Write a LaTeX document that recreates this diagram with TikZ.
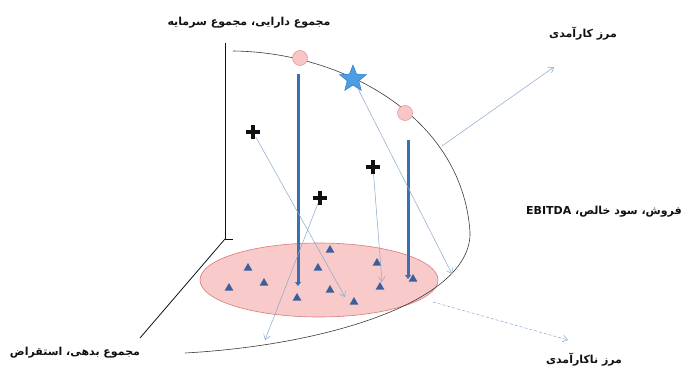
\documentclass[tikz,border=0pt]{standalone}
\usepackage{fontspec}
\newfontfamily\arabicfont[Script=Arabic]{DejaVu Sans}
\TeXXeTstate=1
\usetikzlibrary{arrows.meta,positioning,shapes.geometric,shapes.misc}
\definecolor{efInk}   {HTML}{111111}
\definecolor{efCurve} {HTML}{3A3A3A}
\definecolor{efBar}   {HTML}{3C6FB2}
\definecolor{efThin}  {HTML}{86A8CF}
\definecolor{efPlane} {HTML}{F9CACA}
\definecolor{efRim}   {HTML}{D97A7A}
\definecolor{efDot}   {HTML}{F8C6C6}
\definecolor{efDotRim}{HTML}{E59C9C}
\definecolor{efStar}  {HTML}{4C9DE2}
\definecolor{efStarRim}{HTML}{2E7BC4}
\definecolor{efTri}   {HTML}{3C5F9C}

\tikzset{
  lbl/.style={font=\arabicfont\bfseries\fontsize{11}{13}\selectfont,text=efInk,inner sep=1pt},
  axisline/.style={draw=efInk,line width=0.8pt},
  frontier/.style={draw=efCurve,line width=0.6pt},
  firmbar/.style={draw=efBar,line width=3pt,-{Triangle[length=4pt,width=6pt]}},
  move/.style={draw=efThin,line width=0.5pt,-{Straight Barb[length=5pt,width=7pt]}},
  optdot/.style={circle,draw=efDotRim,fill=efDot,line width=0.6pt,minimum size=15pt,inner sep=0pt},
  target/.style={star,star points=5,star point ratio=2.3,draw=efStarRim,fill=efStar,line width=0.5pt,minimum size=28pt,inner sep=0pt},
  firm/.style={regular polygon,regular polygon sides=3,fill=efTri,minimum size=10pt,inner sep=0pt},
  plusmark/.style={cross out,draw=efInk,line width=3.4pt,minimum size=7pt,inner sep=0pt,rotate=45},
}

\begin{document}
\begin{tikzpicture}[x=1pt,y=-1pt]
  \useasboundingbox (0,0) rectangle (684,369);

  % plane of liabilities
  \node[ellipse,draw=efRim,fill=efPlane,line width=0.6pt,
        minimum width=238pt,minimum height=74pt,inner sep=0pt] (plane) at (319,280) {};

  % axes
  \coordinate (origin) at (225,239);
  \coordinate (ytop)   at (225,43);
  \coordinate (foot)   at (233,239);
  \coordinate (zend)   at (140,338);
  \draw[axisline] (ytop) -- (origin) -- (foot);
  \draw[axisline] (origin) -- (zend);

  % efficient frontier
  \coordinate (fstart) at (233,51);
  \coordinate (fside)  at (470,232);
  \coordinate (fend)   at (185,353);
  \draw[frontier] (fstart) .. controls (340,52) and (462,115) .. (fside)
                           .. controls (472,300) and (330,345) .. (fend);

  % firms on the plane
  \node[firm] (t1)  at (330,250) {};
  \node[firm] (t2)  at (248,268) {};
  \node[firm] (t3)  at (318,268) {};
  \node[firm] (t4)  at (377,263) {};
  \node[firm] (t5)  at (229,288) {};
  \node[firm] (t6)  at (264,283) {};
  \node[firm] (t7)  at (297,298) {};
  \node[firm] (t8)  at (330,290) {};
  \node[firm] (t9)  at (354,302) {};
  \node[firm] (t10) at (380,287) {};
  \node[firm] (t11) at (413,279) {};

  % vertical projections
  \coordinate (bar1top) at (298,74);
  \coordinate (bar1end) at (298,286);
  \coordinate (bar2top) at (408,140);
  \coordinate (bar2end) at (408,279);
  \draw[firmbar] (bar1top) -- (bar1end);
  \draw[firmbar] (bar2top) -- (bar2end);

  % points on the frontier
  \node[optdot] (opt1) at (300,58) {};
  \node[optdot] (opt2) at (405,113) {};
  \node[target] (best) at (353,79) {};

  % firms above the plane
  \node[plusmark] (p1) at (253,132) {};
  \node[plusmark] (p2) at (320,198) {};
  \node[plusmark] (p3) at (373,167) {};

  % their moves
  \coordinate (m1) at (345,297);
  \coordinate (m2) at (265,340);
  \coordinate (m3) at (382,282);
  \coordinate (m4) at (452,274);
  \draw[move] (p1) -- (m1);
  \draw[move] (p2) -- (m2);
  \draw[move] (p3) -- (m3);
  \draw[move] (best) -- (m4);

  % pointers to the frontiers
  \coordinate (effstart) at (442,146);
  \coordinate (effend)   at (554,67);
  \coordinate (ineffstart) at (433,302);
  \coordinate (ineffend)   at (568,340);
  \draw[move] (effstart) -- (effend);
  \draw[move,densely dashed] (ineffstart) -- (ineffend);

  % labels
  \node[lbl] (assetlbl) at (249,23) {\beginR مجموع دارایی، مجموع سرمایه\endR};
  \node[lbl] (efflbl)   at (583,34) {\beginR مرز کارآمدی\endR};
  \node[lbl] (salelbl)  at (604,212) {\beginR فروش، سود خالص، \beginL EBITDA\endL\endR};
  \node[lbl] (debtlbl)  at (75,353) {\beginR مجموع بدهی، استقراض\endR};
  \node[lbl] (inefflbl) at (584,360) {\beginR مرز ناکارآمدی\endR};
\end{tikzpicture}
\end{document}
